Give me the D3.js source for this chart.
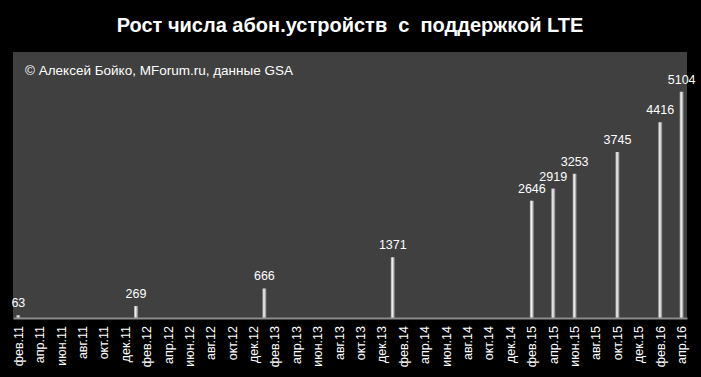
<!DOCTYPE html>
<html>
<head>
<meta charset="utf-8">
<script src="https://cdn.jsdelivr.net/npm/d3@7"></script>
<style>
  body { margin: 0; background: #000; }
  svg text { font-family: "Liberation Sans", Arial, sans-serif; fill: #fff; }
</style>
</head>
<body>
<div id="chart"></div>
<script>
// подписи месяцев и годы оси X
const monthNames = ["янв", "фев", "мар", "апр", "май", "июн", "июл", "авг", "сен", "окт", "ноя", "дек"];
const years = [11, 12, 13, 14, 15, 16];

// значения по месяцам (тыс. устройств, данные GSA)
const barMonths = ["фев.11", "янв.12", "янв.13", "янв.14", "фев.15", "апр.15", "июн.15", "окт.15", "фев.16", "апр.16"];
const barValues = [63, 269, 666, 1371, 2646, 2919, 3253, 3745, 4416, 5104];

const title = "Рост числа абон.устройств  с  поддержкой LTE";
const credit = "© Алексей Бойко, MForum.ru, данные GSA";

// все месяцы с фев.11 по апр.16
const categories = [];
years.forEach(y => monthNames.forEach((m, i) => {
    if ((y === 11 && i < 1) || (y === 16 && i > 3)) return;
    categories.push(m + "." + y);
}));
const tickLabels = categories.filter((d, i) => i % 2 === 0);

const data = barMonths.map((m, i) => ({month: m, value: barValues[i]}));

const width = 701, height = 377;
const plot = {left: 13, right: 687, top: 52, bottom: 318};

const svg = d3.select("#chart").append("svg")
    .attr("width", width)
    .attr("height", height);

svg.append("rect")
    .attr("width", width).attr("height", height)
    .attr("fill", "#000");

const grad = svg.append("defs").append("linearGradient")
    .attr("id", "cyl")
    .attr("x1", "0%").attr("x2", "100%").attr("y1", "0%").attr("y2", "0%");
grad.append("stop").attr("offset", "0%").attr("stop-color", "#a0a0a0");
grad.append("stop").attr("offset", "40%").attr("stop-color", "#f4f4f4");
grad.append("stop").attr("offset", "100%").attr("stop-color", "#767676");

// серая область построения
svg.append("rect")
    .attr("x", plot.left).attr("y", plot.top)
    .attr("width", plot.right - plot.left)
    .attr("height", plot.bottom - plot.top)
    .attr("fill", "#404040");

const x = d3.scaleBand()
    .domain(categories)
    .range([plot.left, plot.right])
    .padding(0);

const y = d3.scaleLinear()
    .domain([0, 6000])
    .range([plot.bottom, plot.top]);

const barW = 4;

svg.append("g")
    .selectAll("rect")
    .data(data)
    .enter().append("rect")
    .attr("x", d => x(d.month) + x.bandwidth() / 2 - barW / 2)
    .attr("y", d => y(d.value))
    .attr("width", barW)
    .attr("height", d => y(0) - y(d.value))
    .attr("fill", "url(#cyl)");

svg.append("g")
    .selectAll("text")
    .data(data)
    .enter().append("text")
    .attr("x", d => x(d.month) + x.bandwidth() / 2)
    .attr("y", d => y(d.value) - 8)
    .attr("text-anchor", "middle")
    .style("font-size", "12.5px")
    .text(d => d.value);

// ось X
const xAxis = d3.axisBottom(x)
    .tickValues(tickLabels)
    .tickSize(0)
    .tickPadding(0);

const gx = svg.append("g")
    .attr("transform", `translate(0,${plot.bottom})`)
    .call(xAxis);

gx.select(".domain")
    .attr("stroke", "#8c8c8c")
    .attr("stroke-width", 2);

gx.selectAll("text")
    .attr("transform", "rotate(-90)")
    .attr("x", -8)
    .attr("y", 0)
    .attr("dy", "0.35em")
    .attr("text-anchor", "end")
    .style("font-size", "12.5px")
    .style("font-family", "'Liberation Sans', Arial, sans-serif")
    .attr("fill", "#fff");

svg.append("text")
    .attr("x", 350)
    .attr("y", 32)
    .attr("text-anchor", "middle")
    .style("font-size", "20px")
    .style("font-weight", "bold")
    .style("font-family", "'Liberation Sans Narrow', 'Liberation Sans', sans-serif")
    .text(title)
    .attr("xml:space", "preserve")
    .style("white-space", "pre");

svg.append("text")
    .attr("x", 25)
    .attr("y", 75)
    .style("font-size", "13.5px")
    .text(credit);
</script>
</body>
</html>
